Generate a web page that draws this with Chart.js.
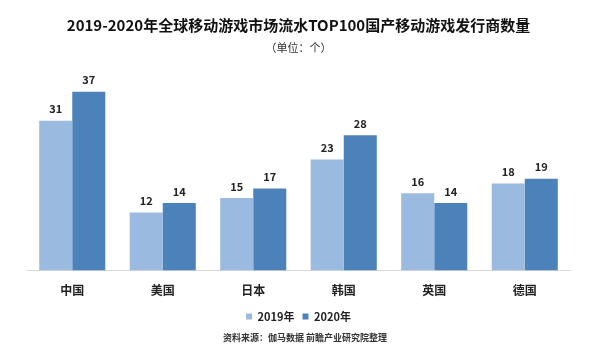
<!DOCTYPE html>
<html>
<head>
<meta charset="utf-8">
<script src="https://cdn.jsdelivr.net/npm/chart.js@4"></script>
<style>
  html, body { margin: 0; padding: 0; background: #fff; }
  #wrap { width: 600px; height: 353px; }
</style>
</head>
<body>
<div id="wrap"><canvas id="faxingChart"></canvas></div>
<script>
const countries = ["中国", "美国", "日本", "韩国", "英国", "德国"];
const data2019 = [31, 12, 15, 23, 16, 18];
const data2020 = [37, 14, 17, 28, 14, 19];
const seriesNames = ["2019年", "2020年"];
const sourceText = "资料来源：伽马数据 前瞻产业研究院整理";

const FONT = "'Noto Sans CJK SC', 'Noto Sans', sans-serif";

// value labels above the bars
const valueLabels = {
  id: "valueLabels",
  afterDatasetsDraw(chart) {
    const ctx = chart.ctx;
    ctx.save();
    ctx.font = "bold 11px " + FONT;
    ctx.fillStyle = "#222";
    ctx.textAlign = "center";
    ctx.textBaseline = "bottom";
    chart.data.datasets.forEach((ds, i) => {
      chart.getDatasetMeta(i).data.forEach((bar, j) => {
        ctx.fillText(ds.data[j], bar.x, bar.y - 6);
      });
    });
    ctx.restore();
  },
};

// source note at the bottom
const sourceNote = {
  id: "sourceNote",
  afterDraw(chart) {
    const ctx = chart.ctx;
    ctx.save();
    ctx.font = "bold 9px " + FONT;
    ctx.fillStyle = "#333";
    ctx.textAlign = "center";
    ctx.textBaseline = "middle";
    ctx.fillText(sourceText, 305, 338);
    ctx.restore();
  },
};

const ctx = document.getElementById("faxingChart").getContext("2d");

new Chart(ctx, {
  type: "bar",
  data: {
    labels: countries,
    datasets: [
      {
        label: seriesNames[0],
        data: data2019,
        backgroundColor: "#9bbadf",
        borderWidth: 0,
        categoryPercentage: 0.73,
        barPercentage: 1.0,
      },
      {
        label: seriesNames[1],
        data: data2020,
        backgroundColor: "#4c82ba",
        borderWidth: 0,
        categoryPercentage: 0.73,
        barPercentage: 1.0,
      },
    ],
  },
  plugins: [valueLabels, sourceNote],
  options: {
    responsive: true,
    maintainAspectRatio: false,
    animation: false,
    layout: {
      padding: { left: 27, right: 30, top: 8, bottom: 21 },
    },
    scales: {
      x: {
        grid: { display: false },
        border: { display: true, color: "#d9d9d9", width: 1 },
        ticks: {
          color: "#222",
          font: { family: FONT, size: 12, weight: "bold" },
          padding: 5,
        },
      },
      y: {
        display: false,
        min: 0,
        max: 40,
      },
    },
    plugins: {
      title: {
        display: true,
        text: "2019-2020年全球移动游戏市场流水TOP100国产移动游戏发行商数量",
        color: "#111",
        font: { family: FONT, size: 15, weight: "bold" },
        padding: { top: 8, bottom: 7 },
      },
      subtitle: {
        display: true,
        text: "（单位：个）",
        color: "#333",
        font: { family: FONT, size: 11 },
        padding: { top: 0, bottom: 23 },
      },
      legend: {
        position: "bottom",
        labels: {
          color: "#222",
          boxWidth: 6,
          boxHeight: 6,
          padding: 8,
          font: { family: FONT, size: 11, weight: "bold" },
        },
      },
      tooltip: { enabled: false },
    },
  },
});
</script>
</body>
</html>
